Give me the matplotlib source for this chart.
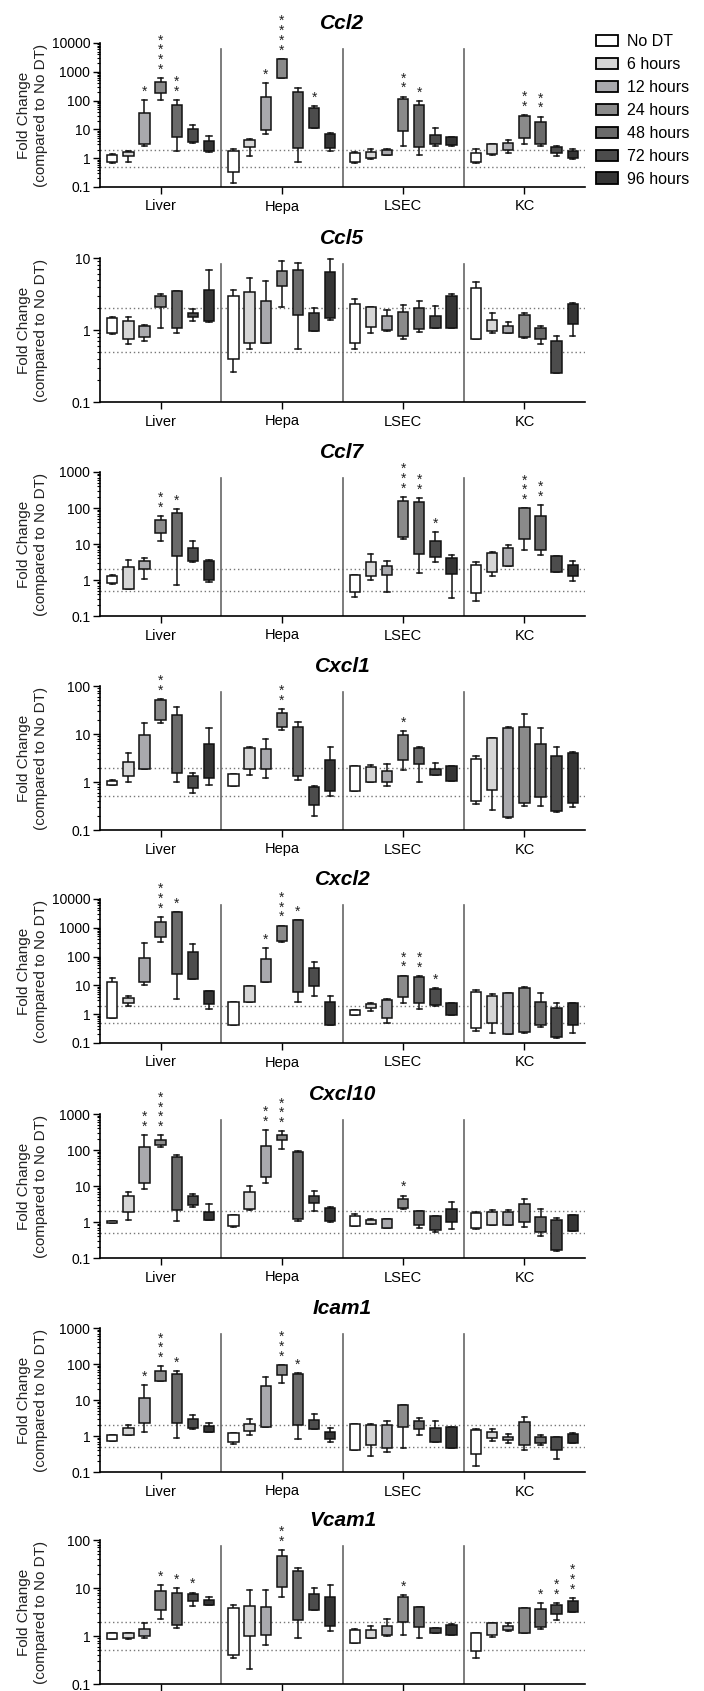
import numpy as np
import matplotlib
matplotlib.use('Agg')
import matplotlib.pyplot as plt
from matplotlib.patches import Patch
from matplotlib.ticker import FixedLocator, LogLocator, NullFormatter

plt.rcParams['font.family'] = ['Liberation Sans', 'DejaVu Sans']

groups = ['Liver', 'Hepa', 'LSEC', 'KC']
times = ['No DT', '6 hours', '12 hours', '24 hours', '48 hours', '72 hours', '96 hours']
colors = ['#ffffff', '#d6d6d6', '#a9a9ad', '#8a8a8a', '#6a6a6a', '#4c4c4c', '#353535']
genes = ['Ccl2', 'Ccl5', 'Ccl7', 'Cxcl1', 'Cxcl2', 'Cxcl10', 'Icam1', 'Vcam1']
ytop = [10000, 10, 1000, 100, 10000, 1000, 1000, 100]

# (whisker low, q1, median, q3, whisker high) per tissue, 7 time points each
ccl2 = [
    [(0.68, 0.75, 1.0, 1.3, 1.38), (0.75, 1.2, 1.45, 1.66, 1.75), (2.7, 3.2, 7.8, 36, 106), (109, 181, 284, 459, 600),
     (1.8, 5.6, 22, 73, 106), (3.5, 3.7, 4.9, 10.7, 14), (1.7, 1.8, 2.5, 4.0, 5.8)],
    [(0.14, 0.33, 1.0, 1.8, 2.1), (1.2, 2.4, 2.9, 4.2, 4.5), (7.2, 9.4, 21, 135, 400), (600, 620, 1840, 2740, 2800),
     (0.75, 2.2, 98, 206, 284), (11.5, 11.6, 22.6, 54, 65), (1.8, 2.35, 3.1, 6.8, 7.6)],
    [(0.68, 0.72, 1.1, 1.5, 1.65), (0.95, 1.0, 1.35, 1.65, 2.05), (1.28, 1.3, 1.6, 1.9, 2.1), (2.7, 8.9, 14, 118, 138),
     (1.3, 2.5, 38, 69, 98), (2.7, 3.1, 4.2, 6.5, 11), (2.7, 2.8, 3.7, 5.6, 5.6)],
    [(0.67, 0.71, 1.05, 1.57, 2.05), (1.25, 1.35, 2.8, 3.0, 3.1), (1.55, 1.9, 2.6, 3.5, 4.2), (3.2, 5.2, 9.6, 30, 32),
     (2.6, 3.2, 9.0, 18.5, 28), (1.2, 1.5, 1.95, 2.45, 2.6), (0.93, 1.05, 1.38, 1.8, 2.05)],
]
ccl5 = [
    [(0.88, 0.9, 1.0, 1.45, 1.52), (0.63, 0.76, 1.14, 1.35, 1.5), (0.7, 0.8, 0.9, 1.14, 1.17), (1.08, 2.12, 2.5, 2.93, 3.16),
     (0.9, 1.08, 2.17, 3.45, 3.45), (1.34, 1.5, 1.62, 1.71, 1.97), (1.3, 1.34, 1.71, 3.56, 6.9)],
    [(0.26, 0.39, 1.05, 3.0, 3.55), (0.54, 0.65, 1.0, 3.4, 5.2), (0.66, 0.66, 1.09, 2.5, 4.86), (2.12, 4.05, 5.7, 6.7, 9.1),
     (0.54, 1.62, 4.76, 6.9, 8.6), (0.97, 0.98, 1.09, 1.71, 1.99), (1.38, 1.49, 2.12, 6.45, 9.6)],
    [(0.55, 0.65, 1.0, 2.29, 2.72), (0.92, 1.11, 1.59, 2.12, 2.12), (0.97, 1.0, 1.18, 1.57, 1.9), (0.74, 0.82, 1.54, 1.8, 2.24),
     (0.93, 1.02, 1.57, 2.0, 2.55), (1.05, 1.08, 1.17, 1.57, 2.17), (1.05, 1.08, 1.27, 2.93, 3.16)],
    [(0.76, 0.76, 1.05, 3.83, 4.7), (0.9, 0.97, 1.17, 1.38, 1.75), (0.92, 0.92, 1.02, 1.14, 1.31), (0.78, 0.81, 1.05, 1.59, 1.75),
     (0.63, 0.74, 0.82, 1.05, 1.14), (0.25, 0.255, 0.41, 0.7, 0.82), (0.82, 1.21, 1.75, 2.29, 2.36)],
]
ccl7 = [
    [(0.77, 0.81, 1.07, 1.32, 1.41), (0.58, 0.58, 1.14, 2.27, 3.64), (1.07, 2.03, 2.69, 3.34, 4.05), (11.9, 20.4, 30, 46, 61),
     (0.74, 4.5, 33, 71, 92), (3.1, 3.48, 4.3, 7.9, 11.9), (0.86, 1.0, 2.69, 3.34, 3.64)],
    None,
    [(0.34, 0.45, 1.07, 1.38, 1.41), (1.0, 1.32, 1.83, 3.13, 5.35), (0.45, 1.38, 2.03, 2.52, 3.27), (14, 15.7, 19.5, 161, 200),
     (1.54, 5.35, 53, 147, 188), (3.1, 4.3, 6.0, 11.9, 21.7), (0.31, 1.47, 3.13, 4.05, 5.0)],
    [(0.26, 0.43, 1.0, 2.63, 3.13), (1.32, 1.71, 3.34, 5.7, 5.96), (2.4, 2.52, 5.35, 7.9, 9.6), (6.9, 14, 27, 98, 98),
     (5.1, 6.9, 27, 61, 121), (1.64, 1.71, 3.6, 4.6, 4.6), (0.96, 1.27, 2.27, 2.69, 3.27)],
]
cxcl1 = [
    [(0.88, 0.88, 0.98, 1.07, 1.1), (1.0, 1.31, 2.2, 2.63, 3.93), (1.87, 1.87, 4.9, 9.4, 17.3), (17.3, 19.7, 35.6, 51, 53),
     (1.0, 1.54, 12.1, 25, 36.8), (0.59, 0.75, 0.91, 1.31, 1.54), (0.85, 1.21, 2.5, 6.1, 13.5)],
    [(0.81, 0.81, 1.03, 1.47, 1.47), (1.38, 1.87, 3.57, 5.2, 5.3), (1.21, 1.87, 3.19, 4.76, 8.0), (12, 14, 22, 28, 33),
     (1.12, 1.31, 8.0, 14.3, 17.9), (0.2, 0.33, 0.59, 0.79, 0.81), (0.5, 0.64, 1.31, 2.85, 5.3)],
    [(0.64, 0.66, 1.0, 2.13, 2.2), (1.0, 1.0, 1.47, 2.06, 2.31), (0.81, 1.0, 1.31, 1.67, 2.38), (1.81, 2.94, 4.05, 9.5, 11.5),
     (1.0, 2.42, 3.57, 5.0, 5.3), (1.38, 1.38, 1.62, 1.9, 2.5), (1.03, 1.03, 1.67, 2.13, 2.13)],
    [(0.35, 0.41, 1.12, 3.04, 3.45), (0.26, 0.69, 3.57, 8.4, 8.4), (0.18, 0.19, 4.9, 13.1, 14), (0.32, 0.36, 5.6, 14, 26),
     (0.32, 0.48, 1.54, 6.3, 13.5), (0.24, 0.25, 1.16, 3.45, 5.3), (0.3, 0.36, 0.91, 3.93, 4.2)],
]
cxcl2 = [
    [(0.74, 0.74, 0.97, 13, 18), (1.97, 2.5, 3.1, 3.6, 4.4), (10, 13, 27, 87, 286), (310, 470, 650, 1540, 2400),
     (3.4, 25.8, 181, 3400, 3560), (16.7, 16.7, 53, 150, 270), (1.5, 2.25, 2.5, 6.6, 6.6)],
    [(0.41, 0.43, 1.0, 2.58, 2.7), (2.7, 2.7, 6.1, 9.7, 9.7), (13, 13, 15.8, 80, 196), (310, 360, 870, 1140, 1200),
     (2.7, 5.8, 130, 1800, 1900), (4.4, 9.2, 19, 41, 66), (0.43, 0.43, 1.58, 2.7, 4.3)],
    [(0.92, 0.92, 1.21, 1.38, 1.38), (1.28, 1.58, 1.97, 2.25, 2.38), (0.51, 0.74, 2.25, 3.1, 3.4), (2.38, 3.9, 5.4, 22, 22),
     (1.5, 2.5, 12, 19.7, 20.7), (1.97, 2.08, 4.9, 7.4, 8.0), (0.92, 0.92, 1.58, 2.38, 2.38)],
    [(0.27, 0.33, 1.2, 5.8, 7.0), (0.22, 0.5, 1.97, 4.4, 5.1), (0.21, 0.21, 2.5, 5.4, 5.6), (0.22, 0.25, 2.4, 8.0, 8.5),
     (0.36, 0.41, 1.2, 2.6, 5.4), (0.15, 0.16, 0.61, 1.58, 2.38), (0.22, 0.41, 0.76, 2.38, 2.38)],
]
cxcl10 = [
    [(0.94, 0.94, 1.0, 1.06, 1.06), (1.16, 1.86, 3.4, 5.4, 6.7), (8.4, 12.1, 43.5, 121, 255), (121, 134, 163, 194, 255),
     (1.09, 2.2, 9.8, 64, 74), (2.6, 2.9, 3.9, 5.4, 6.1), (1.16, 1.16, 1.5, 1.9, 3.2)],
    [(0.73, 0.76, 1.04, 1.6, 1.6), (2.2, 2.35, 4.2, 6.7, 9.8), (12.1, 17.8, 54, 131, 350), (109, 186, 226, 265, 330),
     (1.04, 1.24, 19.4, 88, 92), (2.0, 3.4, 4.0, 5.2, 7.1), (1.0, 1.09, 1.38, 2.45, 2.55)],
    [(0.79, 0.79, 1.04, 1.5, 1.67), (0.9, 0.9, 1.04, 1.16, 1.24), (0.68, 0.68, 0.94, 1.2, 1.2), (2.35, 2.45, 3.9, 4.4, 5.4),
     (0.68, 0.84, 1.35, 1.98, 1.98), (0.52, 0.59, 1.16, 1.5, 1.5), (0.64, 0.98, 1.38, 2.3, 3.5)],
    [(0.65, 0.68, 1.16, 1.78, 1.86), (0.81, 0.81, 1.29, 1.9, 2.2), (0.84, 0.84, 1.78, 1.9, 2.2), (0.73, 0.98, 1.98, 3.2, 4.35),
     (0.4, 0.53, 0.73, 1.38, 2.3), (0.16, 0.17, 0.57, 1.16, 1.29), (0.57, 0.57, 1.24, 1.53, 1.53)],
]
icam1 = [
    [(0.72, 0.72, 0.96, 1.07, 1.07), (1.07, 1.07, 1.44, 1.64, 2.03), (1.29, 2.27, 5.8, 11.1, 26), (33, 33, 48, 62, 86),
     (0.9, 2.36, 9.5, 53, 62), (1.6, 1.71, 2.27, 2.9, 3.9), (1.32, 1.32, 1.54, 1.9, 2.36)],
    [(0.61, 0.69, 1.07, 1.24, 1.24), (1.07, 1.38, 1.82, 2.12, 2.9), (1.82, 1.82, 5.6, 25, 43), (29, 48, 78, 95, 95),
     (0.81, 2.03, 16.4, 53, 56), (1.54, 1.54, 2.12, 2.8, 4.2), (0.69, 0.81, 1.07, 1.32, 1.64)],
    [(0.4, 0.4, 1.29, 2.2, 2.2), (0.27, 0.55, 1.29, 2.03, 2.12), (0.36, 0.47, 1.04, 2.03, 2.6), (0.47, 1.79, 3.6, 7.2, 7.2),
     (1.04, 1.54, 2.03, 2.6, 3.1), (0.68, 0.69, 0.9, 1.71, 2.6), (0.45, 0.45, 1.11, 1.82, 1.82)],
    [(0.15, 0.32, 1.11, 1.47, 1.54), (0.72, 0.9, 1.16, 1.32, 1.54), (0.65, 0.77, 0.86, 0.96, 1.11), (0.42, 0.55, 1.44, 2.46, 3.4),
     (0.55, 0.65, 0.77, 0.96, 1.07), (0.23, 0.42, 0.65, 0.94, 0.94), (0.62, 0.62, 0.81, 1.16, 1.24)],
]
vcam1 = [
    [(0.85, 0.85, 1.0, 1.18, 1.18), (0.85, 0.92, 1.05, 1.14, 1.18), (0.89, 1.0, 1.18, 1.38, 1.91), (2.3, 3.48, 6.6, 8.6, 11.7),
     (1.5, 1.71, 6.3, 7.8, 10), (4.3, 5.3, 6.4, 7.6, 8.0), (4.5, 4.5, 5.2, 5.7, 6.6)],
    [(0.34, 0.41, 1.14, 3.78, 4.4), (0.21, 1.0, 2.0, 4.2, 9.2), (0.64, 1.03, 1.62, 4.1, 9.2), (6.4, 10.5, 31.5, 46, 62),
     (0.9, 2.17, 17, 22.5, 26), (3.48, 3.48, 4.3, 7.6, 10), (1.28, 1.62, 3.4, 6.4, 11.3)],
    [(0.7, 0.7, 1.0, 1.34, 1.38), (0.89, 0.92, 1.18, 1.34, 1.62), (1.0, 1.05, 1.28, 1.62, 2.3), (1.05, 2.0, 3.4, 6.4, 7.0),
     (0.92, 1.55, 2.3, 3.96, 4.1), (1.14, 1.18, 1.32, 1.45, 1.5), (1.03, 1.03, 1.38, 1.7, 1.82)],
    [(0.35, 0.48, 1.08, 1.14, 1.18), (0.95, 1.05, 1.68, 1.91, 1.91), (1.28, 1.32, 1.5, 1.62, 1.91), (1.18, 1.18, 1.62, 3.84, 3.84),
     (1.38, 1.55, 3.1, 3.66, 4.8), (2.14, 2.87, 3.78, 4.5, 4.9), (3.1, 3.1, 4.3, 5.3, 6.1)],
]

# number of significance stars per box
ccl2_stars = [[0, 0, 1, 4, 2, 0, 0], [0, 0, 1, 4, 0, 1, 0], [0, 0, 0, 2, 1, 0, 0], [0, 0, 0, 2, 2, 0, 0]]
ccl5_stars = [[0] * 7, [0] * 7, [0] * 7, [0] * 7]
ccl7_stars = [[0, 0, 0, 2, 1, 0, 0], [0] * 7, [0, 0, 0, 3, 2, 1, 0], [0, 0, 0, 3, 2, 0, 0]]
cxcl1_stars = [[0, 0, 0, 2, 0, 0, 0], [0, 0, 0, 2, 0, 0, 0], [0, 0, 0, 1, 0, 0, 0], [0] * 7]
cxcl2_stars = [[0, 0, 0, 3, 1, 0, 0], [0, 0, 1, 3, 1, 0, 0], [0, 0, 0, 2, 2, 1, 0], [0] * 7]
cxcl10_stars = [[0, 0, 2, 4, 0, 0, 0], [0, 0, 2, 3, 0, 0, 0], [0, 0, 0, 1, 0, 0, 0], [0] * 7]
icam1_stars = [[0, 0, 1, 3, 1, 0, 0], [0, 0, 0, 3, 1, 0, 0], [0] * 7, [0] * 7]
vcam1_stars = [[0, 0, 0, 1, 1, 1, 0], [0, 0, 0, 2, 0, 0, 0], [0, 0, 0, 1, 0, 0, 0], [0, 0, 0, 0, 1, 2, 3]]

all_stats = [ccl2, ccl5, ccl7, cxcl1, cxcl2, cxcl10, icam1, vcam1]
all_stars = [ccl2_stars, ccl5_stars, ccl7_stars, cxcl1_stars, cxcl2_stars, cxcl10_stars, icam1_stars, vcam1_stars]

W, H = 704, 1691
fig = plt.figure(figsize=(W / 100, H / 100), dpi=100)

ax_left, ax_right, ax_h = 100, 585, 144
tops = [43, 258, 472, 686, 899, 1114, 1328, 1540]
step, bw = 0.133, 0.085


def draw_panel(ax, gene, stats, stars, top):
    for g, tissue in enumerate(stats):
        if tissue is None:
            continue
        pos = [g + 0.5 + (k - 3) * step for k in range(7)]
        bstats = [dict(whislo=s[0], q1=s[1], med=s[2], q3=s[3], whishi=s[4], fliers=[]) for s in tissue]
        res = ax.bxp(bstats, positions=pos, widths=bw, patch_artist=True, showfliers=False,
                     capwidths=bw * 0.5, manage_ticks=False,
                     boxprops=dict(edgecolor='#111111', linewidth=1.1),
                     medianprops=dict(color='#111111', linewidth=1.3),
                     whiskerprops=dict(color='#111111', linewidth=1.1),
                     capprops=dict(color='#111111', linewidth=1.1))
        for k, box in enumerate(res['boxes']):
            box.set_facecolor(colors[k])
            box.set_zorder(3)
            n = stars[g][k]
            if n:
                ax.annotate('\n'.join(['*'] * n), xy=(pos[k], tissue[k][4]), xytext=(0, 1),
                            textcoords='offset points', ha='center', va='bottom',
                            fontsize=10, linespacing=0.62, color='#222222', annotation_clip=False)

    ax.set_yscale('log')
    ax.set_ylim(0.1, top)
    ax.set_xlim(0, 4)
    decades = [10.0 ** e for e in range(-1, int(np.log10(top)) + 1)]
    ax.yaxis.set_major_locator(FixedLocator(decades))
    ax.set_yticklabels(['0.1' if d < 1 else '%d' % d for d in decades])
    ax.yaxis.set_minor_locator(LogLocator(base=10, subs=np.arange(2, 10)))
    ax.yaxis.set_minor_formatter(NullFormatter())
    ax.set_xticks([0.5, 1.5, 2.5, 3.5])
    ax.set_xticklabels(groups)
    ax.tick_params(axis='y', which='major', length=5, width=1, labelsize=10, pad=2)
    ax.tick_params(axis='y', which='minor', length=2.5, width=0.8)
    ax.tick_params(axis='x', length=5, width=1, labelsize=10.5, pad=4)
    for side in ['top', 'right']:
        ax.spines[side].set_visible(False)
    for side in ['left', 'bottom']:
        ax.spines[side].set_linewidth(1.2)

    for y in [2, 0.5]:
        ax.axhline(y, color='#777777', linestyle=(0, (1, 2)), linewidth=1, zorder=1)
    for x in [1, 2, 3]:
        ax.axvline(x, ymin=0, ymax=0.96, color='#666666', linewidth=1.2, zorder=1)

    ax.set_title(gene, fontsize=15, fontweight='bold', fontstyle='italic', pad=10)
    ax.set_ylabel('Fold Change\n(compared to No DT)', fontsize=11, color='#222222')
    # same label spot in every panel, whatever the tick label widths
    ax.yaxis.set_label_coords(-0.108, 0.5)


for i, gene in enumerate(genes):
    top_px = tops[i]
    ax = fig.add_axes([ax_left / W, 1 - (top_px + ax_h) / H, (ax_right - ax_left) / W, ax_h / H])
    draw_panel(ax, gene, all_stats[i], all_stars[i], ytop[i])

handles = [Patch(facecolor=c, edgecolor='black', linewidth=1.3) for c in colors]
fig.legend(handles, times, loc='upper left', bbox_to_anchor=(596 / W, 1 - 34 / H), frameon=False,
           fontsize=11.5, handlelength=1.35, handleheight=0.75, handletextpad=0.6,
           labelspacing=0.5, borderpad=0, borderaxespad=0)

fig.text(0.002, 1.003, 'A', fontsize=13, fontweight='bold', va='center', ha='left')

fig.savefig('out.png', dpi=100)
